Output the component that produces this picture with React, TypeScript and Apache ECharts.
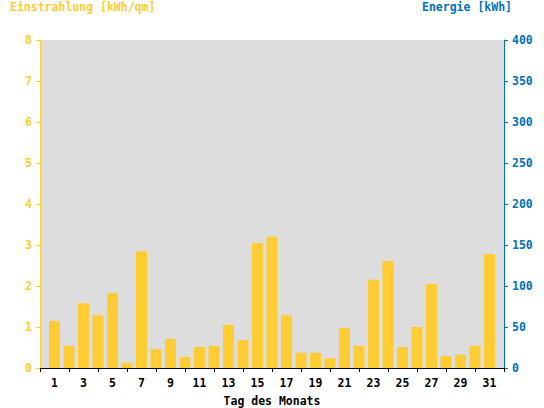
import React, { useEffect, useRef } from "react";
import * as echarts from "echarts";

// Days 1..31; the axis spans from day 0 to day 32, ticks at even days, labels at odd days
const days = Array.from({ length: 31 }, (_, i) => String(i + 1));
const axisDays = ["0", ...days, "32"];
const einstrahlung = [
  1.15, 0.54, 1.58, 1.29, 1.83, 0.12, 2.85, 0.46, 0.71, 0.27,
  0.51, 0.54, 1.05, 0.68, 3.05, 3.2, 1.29, 0.37, 0.37, 0.24,
  0.98, 0.54, 2.15, 2.61, 0.51, 1.0, 2.05, 0.29, 0.32, 0.54, 2.78,
];
const leftTitle = "Einstrahlung [kWh/qm]";
const rightTitle = "Energie [kWh]";
const xName = "Tag des Monats";

const YELLOW = "#FFCC33";
const BLUE = "#0072BC";
const FONT = "DejaVu Sans Mono";
const FS = 11.5;

export default function App() {
  const ref = useRef<HTMLDivElement>(null);
  useEffect(() => {
    if (!ref.current) return;
    const chart = echarts.init(ref.current, null, { renderer: "svg" });
    const barData = [null, ...einstrahlung, null];
    chart.setOption({
      animation: false,
      backgroundColor: "#FFFFFF",
      textStyle: { fontFamily: FONT, fontWeight: "bold", fontSize: FS },
      grid: {
        left: 40,
        right: 40,
        top: 40,
        bottom: 40,
        show: true,
        backgroundColor: "#DDDDDD",
        borderWidth: 0,
        containLabel: false,
        outerBoundsMode: "none",
      },
      graphic: [
        {
          type: "text",
          left: 10,
          top: 1,
          style: {
            text: leftTitle,
            fill: YELLOW,
            font: `bold ${FS}px ${FONT}`,
          },
        },
        {
          type: "text",
          right: 32,
          top: 1,
          style: {
            text: rightTitle,
            fill: BLUE,
            font: `bold ${FS}px ${FONT}`,
          },
        },
      ],
      xAxis: [
        {
          type: "category",
          data: axisDays,
          position: "bottom",
          boundaryGap: false,
          name: xName,
          nameLocation: "middle",
          nameGap: 27,
          nameTextStyle: { color: "#000", fontFamily: FONT, fontWeight: "bold", fontSize: FS },
          axisLine: { show: true, lineStyle: { color: "#000", width: 1 } },
          axisTick: { show: true, interval: 1, length: 4, lineStyle: { color: "#000" } },
          axisLabel: {
            interval: (index: number) => index % 2 === 1,
            color: "#000",
            margin: 9,
            fontFamily: FONT,
            fontWeight: "bold",
            fontSize: FS,
          },
          splitLine: { show: false },
        },
        {
          type: "category",
          data: axisDays,
          position: "top",
          boundaryGap: false,
          axisLine: { show: true, lineStyle: { color: "#000", width: 1 } },
          axisTick: { show: false },
          axisLabel: { show: false },
          splitLine: { show: false },
        },
      ],
      yAxis: [
        {
          type: "value",
          min: 0,
          max: 8,
          interval: 1,
          position: "left",
          axisLine: { show: true, lineStyle: { color: YELLOW, width: 1 } },
          axisTick: { show: true, length: 4, lineStyle: { color: YELLOW } },
          axisLabel: {
            color: YELLOW,
            margin: 8,
            fontFamily: FONT,
            fontWeight: "bold",
            fontSize: FS,
          },
          splitLine: { show: false },
        },
        {
          type: "value",
          min: 0,
          max: 400,
          interval: 50,
          position: "right",
          axisLine: { show: true, lineStyle: { color: BLUE, width: 1 } },
          axisTick: { show: true, length: 4, lineStyle: { color: BLUE } },
          axisLabel: {
            color: BLUE,
            margin: 8,
            fontFamily: FONT,
            fontWeight: "bold",
            fontSize: FS,
          },
          splitLine: { show: false },
        },
      ],
      series: [
        {
          type: "bar",
          xAxisIndex: 0,
          yAxisIndex: 0,
          data: barData,
          barWidth: 11,
          itemStyle: { color: YELLOW },
        },
      ],
    });
    return () => chart.dispose();
  }, []);
  return <div ref={ref} style={{ width: 544, height: 408, position: "absolute", left: 0, top: 0 }} />;
}
